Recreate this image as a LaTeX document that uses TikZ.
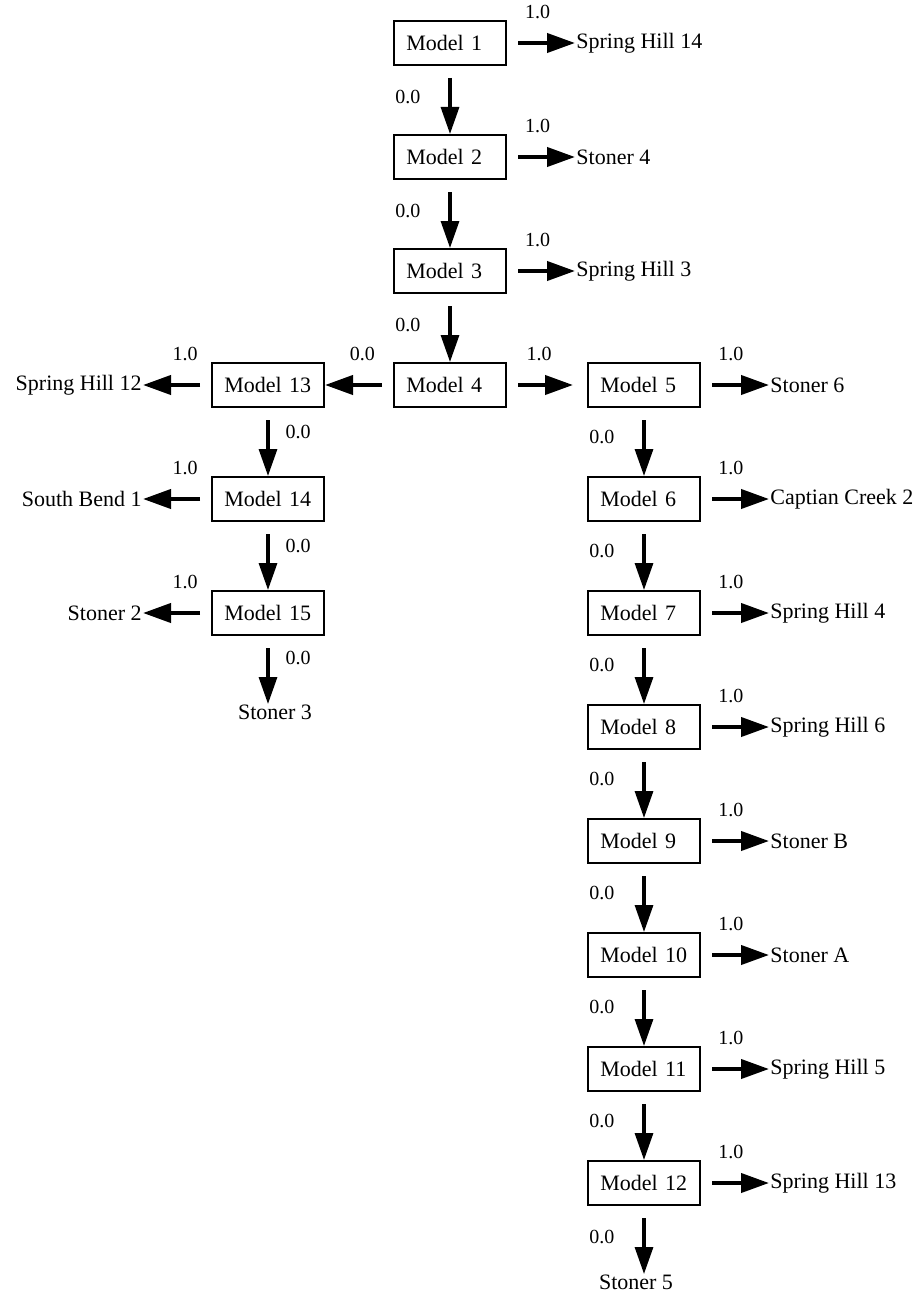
\documentclass[tikz,border=0pt]{standalone}
\usepackage{fontspec}
\setmainfont{Liberation Serif}
\usepackage{tikz}
\usetikzlibrary{arrows.meta, positioning}

\begin{document}
\begin{tikzpicture}[
        node distance=34pt,
        model/.style={rectangle, draw, line width=0.8pt, text width=43.6pt, align=left, inner xsep=6.3pt, inner ysep=2pt, minimum height=22.2pt, font=\fontsize{11pt}{13pt}\selectfont},
        site/.style={inner sep=0.5pt, font=\fontsize{11pt}{13pt}\selectfont},
        prob/.style={inner sep=0pt, font=\fontsize{10pt}{12pt}\selectfont},
        hline/.style={draw, line width=2pt, -{Triangle[length=14pt, width=9.5pt]}, shorten <=5.5pt},
        vline/.style={draw, line width=1.6pt, -{Triangle[length=13.5pt, width=9pt]}, shorten <=6pt}
    ]
        \useasboundingbox (0,0) rectangle (460pt,-647.5pt);

        % main chain
        \node [model] (m1) at (225pt,-21.5pt) {Model 1};
        \node [model, below=of m1] (m2) {Model 2};
        \node [model, below=of m2] (m3) {Model 3};
        \node [model, below=of m3] (m4) {Model 4};
        \node [model, left=of m4] (m13) {Model 13};
        \node [model, right=40pt of m4] (m5) {Model 5};

        % left branch
        \node [model, below=of m13] (m14) {Model 14};
        \node [model, below=of m14] (m15) {Model 15};

        % right branch
        \node [model, below=of m5] (m6) {Model 6};
        \node [model, below=of m6] (m7) {Model 7};
        \node [model, below=of m7] (m8) {Model 8};
        \node [model, below=of m8] (m9) {Model 9};
        \node [model, below=of m9] (m10) {Model 10};
        \node [model, below=of m10] (m11) {Model 11};
        \node [model, below=of m11] (m12) {Model 12};

        % sites
        \node [site, right=of m1] (sh14) {Spring Hill 14};
        \node [site, right=of m2] (st4) {Stoner 4};
        \node [site, right=of m3] (sh3) {Spring Hill 3};
        \node [site, left=of m13] (sh12) {Spring Hill 12};
        \node [site, left=of m14] (sb1) {South Bend 1};
        \node [site, left=of m15] (st2) {Stoner 2};
        \node [site, below=of m15, xshift=3.5pt] (st3) {Stoner 3};
        \node [site, right=of m5] (st6) {Stoner 6};
        \node [site, right=of m6] (cc2) {Captian Creek 2};
        \node [site, right=of m7] (sh4) {Spring Hill 4};
        \node [site, right=of m8] (sh6) {Spring Hill 6};
        \node [site, right=of m9] (stb) {Stoner B};
        \node [site, right=of m10] (sta) {Stoner A};
        \node [site, right=of m11] (sh5) {Spring Hill 5};
        \node [site, right=of m12] (sh13) {Spring Hill 13};
        \node [site, below=of m12, xshift=-4pt] (st5) {Stoner 5};

        % 0.0 edges
        \path [vline] (m1) -- node[prob, pos=0.45, left=14pt] {0.0} (m2);
        \path [vline] (m2) -- node[prob, pos=0.45, left=14pt] {0.0} (m3);
        \path [vline] (m3) -- node[prob, pos=0.45, left=14pt] {0.0} (m4);
        \path [hline] (m4) -- node[prob, pos=0.45, above=11pt] {0.0} (m13);
        \path [vline] (m13) -- node[prob, pos=0.36, right=8pt] {0.0} (m14);
        \path [vline] (m14) -- node[prob, pos=0.36, right=8pt] {0.0} (m15);
        \path [vline] (m15.south) -- node[prob, pos=0.32, right=8pt] {0.0} (m15.south |- st3.north);
        \path [vline] (m5) -- node[prob, pos=0.42, left=14pt] {0.0} (m6);
        \path [vline] (m6) -- node[prob, pos=0.42, left=14pt] {0.0} (m7);
        \path [vline] (m7) -- node[prob, pos=0.42, left=14pt] {0.0} (m8);
        \path [vline] (m8) -- node[prob, pos=0.42, left=14pt] {0.0} (m9);
        \path [vline] (m9) -- node[prob, pos=0.42, left=14pt] {0.0} (m10);
        \path [vline] (m10) -- node[prob, pos=0.42, left=14pt] {0.0} (m11);
        \path [vline] (m11) -- node[prob, pos=0.42, left=14pt] {0.0} (m12);
        \path [vline] (m12.south) -- node[prob, pos=0.45, left=14pt] {0.0} (m12.south |- st5.north);

        % 1.0 edges
        \path [hline] (m1) -- node[prob, pos=0.45, above=11pt] {1.0} (sh14);
        \path [hline] (m2) -- node[prob, pos=0.45, above=11pt] {1.0} (st4);
        \path [hline] (m3) -- node[prob, pos=0.45, above=11pt] {1.0} (sh3);
        \path [hline, shorten >=7pt] (m4) -- node[prob, pos=0.4, above=11pt] {1.0} (m5);
        \path [hline] (m13) -- node[prob, pos=0.38, above=11pt] {1.0} (sh12);
        \path [hline] (m14) -- node[prob, pos=0.38, above=11pt] {1.0} (sb1);
        \path [hline] (m15) -- node[prob, pos=0.38, above=11pt] {1.0} (st2);
        \path [hline] (m5) -- node[prob, pos=0.44, above=11pt] {1.0} (st6);
        \path [hline] (m6) -- node[prob, pos=0.44, above=11pt] {1.0} (cc2);
        \path [hline] (m7) -- node[prob, pos=0.44, above=11pt] {1.0} (sh4);
        \path [hline] (m8) -- node[prob, pos=0.44, above=11pt] {1.0} (sh6);
        \path [hline] (m9) -- node[prob, pos=0.44, above=11pt] {1.0} (stb);
        \path [hline] (m10) -- node[prob, pos=0.44, above=11pt] {1.0} (sta);
        \path [hline] (m11) -- node[prob, pos=0.44, above=11pt] {1.0} (sh5);
        \path [hline] (m12) -- node[prob, pos=0.44, above=11pt] {1.0} (sh13);
    \end{tikzpicture}
\end{document}
